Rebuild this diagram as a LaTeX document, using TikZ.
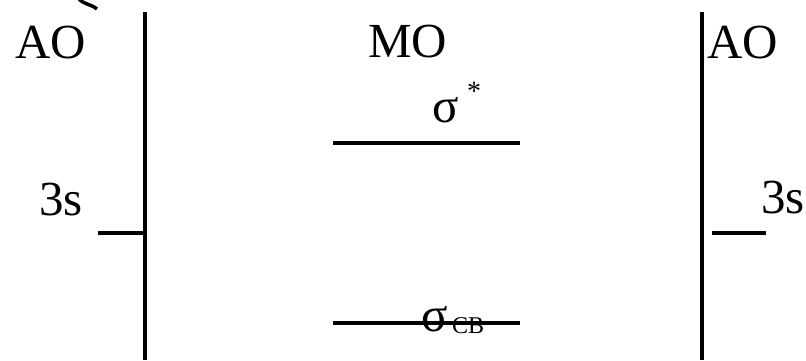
\documentclass[tikz,border=0pt]{standalone}
\usepackage{fontspec}
\setmainfont{Liberation Serif}
\begin{document}
\begin{tikzpicture}[x=1pt,y=-1pt,
  lbl/.style={inner sep=0pt,anchor=base west,font=\fontsize{49}{50}\selectfont},
  sub/.style={inner sep=0pt,anchor=base west,font=\fontsize{24}{26}\selectfont},
  axis/.style={line width=3.5pt},
  level/.style={line width=3.5pt}]
\useasboundingbox (0,0) rectangle (806,360);
% coordinates
\coordinate (lTop) at (145,12);
\coordinate (lBot) at (145,360);
\coordinate (rTop) at (702,12);
\coordinate (rBot) at (702,360);
\coordinate (lS1) at (98,233);
\coordinate (lS2) at (145,233);
\coordinate (rS1) at (712,233);
\coordinate (rS2) at (766,233);
\coordinate (a1) at (333,143);
\coordinate (a2) at (520,143);
\coordinate (b1) at (333,323);
\coordinate (b2) at (520,323);
% axes and levels
\draw[axis] (lTop) -- (lBot);
\draw[axis] (rTop) -- (rBot);
\draw[level] (lS1) -- (lS2);
\draw[level] (rS1) -- (rS2);
\draw[level] (a1) -- (a2);
\draw[level] (b1) -- (b2);
% partial glyph at top edge
\draw[line width=3.5pt] (79,-1) .. controls (85,5) and (91,4) .. (97,9);
% labels
\node[lbl] (aoL) at (15,58) {AO};
\node[lbl] (mo) at (368,57) {MO};
\node[lbl] (aoR) at (707,58) {AO};
\node[lbl] (s3L) at (39,215) {3s};
\node[lbl] (s3R) at (761,213) {3s};
\node[lbl] (sigA) at (432,122) {σ};
\node[inner sep=0pt,anchor=base west,font=\fontsize{28}{30}\selectfont] (star) at (467,100) {*};
\node[lbl] (sigB) at (421,331) {σ};
\node[sub] (cb) at (452,333) {CB};
\end{tikzpicture}
\end{document}
